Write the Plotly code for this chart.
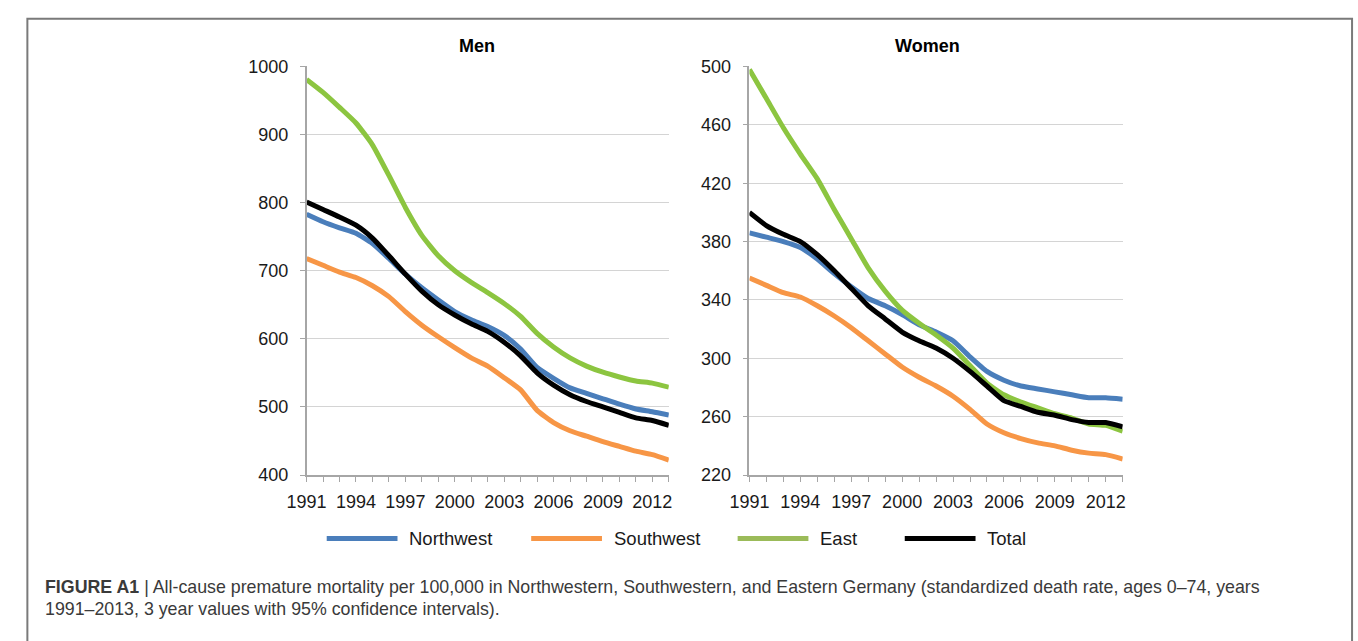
import plotly.graph_objects as go

# ---------------- data ----------------
years = list(range(1991, 2014))

men_northwest = [783, 772, 763, 755, 740, 718, 695, 675, 657, 640, 628, 618, 605, 585, 558, 542, 528, 520, 512, 504, 497, 493, 488]
men_southwest = [718, 708, 698, 690, 678, 662, 640, 620, 603, 587, 572, 560, 543, 525, 495, 477, 465, 457, 449, 442, 435, 430, 422]
men_east = [981, 962, 940, 917, 885, 840, 793, 752, 722, 700, 683, 668, 652, 633, 608, 588, 572, 560, 551, 544, 538, 535, 529]
men_total = [801, 790, 779, 767, 748, 722, 695, 670, 650, 635, 622, 611, 595, 575, 550, 532, 518, 508, 500, 492, 484, 480, 473]

women_northwest = [386, 383, 380, 376, 368, 358, 349, 341, 336, 330, 323, 318, 312, 301, 291, 285, 281, 279, 277, 275, 273, 273, 272]
women_southwest = [355, 350, 345, 342, 336, 329, 321, 312, 303, 294, 287, 281, 274, 265, 255, 249, 245, 242, 240, 237, 235, 234, 231]
women_east = [498, 478, 458, 440, 423, 402, 382, 362, 346, 333, 324, 316, 307, 295, 283, 275, 270, 266, 262, 259, 255, 254, 250]
women_total = [400, 391, 385, 380, 371, 360, 348, 336, 327, 318, 312, 307, 300, 291, 281, 271, 267, 263, 261, 258, 256, 256, 253]

series_names = ["Northwest", "Southwest", "East", "Total"]
series_colors = ["#4A7EBB", "#F79646", "#8CC540", "#000000"]
legend_colors = ["#4A7EBB", "#F79646", "#9BBB59", "#000000"]

men_ticks = [400, 500, 600, 700, 800, 900, 1000]
women_ticks = [220, 260, 300, 340, 380, 420, 460, 500]

caption_line1 = ("<b>FIGURE A1</b> | All-cause premature mortality per 100,000 in Northwestern, "
                 "Southwestern, and Eastern Germany (standardized death rate, ages 0–74, years")
caption_line2 = "1991–2013, 3 year values with 95% confidence intervals)."

# ---------------- layout helpers ----------------
W, H = 1358, 641
def px(x):
    return x / W
def py(y):
    return 1 - y / H

FONT = "Liberation Sans, Arial, Helvetica, sans-serif"
AXIS_COLOR = "#a6a6a6"
GRID_COLOR = "#d4d4d4"
TEXT_COLOR = "#1a1a1a"

fig = go.Figure()

men_data = [men_northwest, men_southwest, men_east, men_total]
women_data = [women_northwest, women_southwest, women_east, women_total]

for name, vals, col in zip(series_names, men_data, series_colors):
    fig.add_trace(go.Scatter(x=years, y=vals, name=name, mode="lines",
                             line=dict(color=col, width=5, shape="spline", smoothing=0.5),
                             xaxis="x", yaxis="y", showlegend=False))
for name, vals, col in zip(series_names, women_data, series_colors):
    fig.add_trace(go.Scatter(x=years, y=vals, name=name, mode="lines",
                             line=dict(color=col, width=5, shape="spline", smoothing=0.5),
                             xaxis="x2", yaxis="y2", showlegend=False))

def xaxis_cfg(domain, anchor):
    return dict(domain=domain, anchor=anchor, range=[1991, 2013],
                tick0=1991, dtick=3, ticks="outside", ticklen=5, tickwidth=1.2,
                tickcolor=AXIS_COLOR, showline=True, linecolor=AXIS_COLOR, linewidth=1.5,
                showgrid=False, zeroline=False, ticklabelstandoff=5,
                minor=dict(tick0=1991, dtick=1, ticks="outside", ticklen=5, tickwidth=1.2,
                           tickcolor=AXIS_COLOR, showgrid=False),
                tickfont=dict(family=FONT, size=18, color=TEXT_COLOR))

def yaxis_cfg(domain, anchor, rng, tickvals):
    return dict(domain=domain, anchor=anchor, range=rng, tickvals=tickvals,
                ticks="outside", ticklen=5, tickwidth=1.2, tickcolor=AXIS_COLOR,
                showline=True, linecolor=AXIS_COLOR, linewidth=1.5,
                showgrid=True, gridcolor=GRID_COLOR, gridwidth=1.2, zeroline=False,
                ticklabelstandoff=8,
                tickfont=dict(family=FONT, size=18, color=TEXT_COLOR))

ydom = [py(480), py(58.3)]
fig.update_layout(
    xaxis=xaxis_cfg([px(291.5), px(660)], "y"),
    yaxis=yaxis_cfg(ydom, "x", [400, 1000], men_ticks),
    xaxis2=xaxis_cfg([px(742), px(1121.7)], "y2"),
    yaxis2=yaxis_cfg(ydom, "x2", [220, 500], women_ticks),
)

annotations = [
    dict(text="<b>Men</b>", x=px(465), y=py(37), xref="paper", yref="paper",
         showarrow=False, font=dict(family=FONT, size=18, color="#000000"),
         xanchor="center", yanchor="middle"),
    dict(text="<b>Women</b>", x=px(923), y=py(37), xref="paper", yref="paper",
         showarrow=False, font=dict(family=FONT, size=18, color="#000000"),
         xanchor="center", yanchor="middle"),
]

shapes = []
# manual legend
leg_y = 545.5
leg_x0 = [312, 520, 730, 900]
for name, col, x0 in zip(series_names, legend_colors, leg_x0):
    shapes.append(dict(type="line", xref="paper", yref="paper",
                       x0=px(x0), x1=px(x0 + 72), y0=py(leg_y), y1=py(leg_y),
                       line=dict(color=col, width=5)))
    annotations.append(dict(text=name, x=px(x0 + 82), y=py(leg_y), xref="paper", yref="paper",
                            showarrow=False, xanchor="left", yanchor="middle",
                            font=dict(family=FONT, size=18.5, color=TEXT_COLOR)))

# caption
annotations.append(dict(text=caption_line1, x=px(23), y=py(596), xref="paper", yref="paper",
                        showarrow=False, xanchor="left", yanchor="middle", align="left",
                        font=dict(family=FONT, size=17.8, color="#3a3a3a")))
annotations.append(dict(text=caption_line2, x=px(23), y=py(618), xref="paper", yref="paper",
                        showarrow=False, xanchor="left", yanchor="middle", align="left",
                        font=dict(family=FONT, size=17.8, color="#3a3a3a")))

# frame
shapes.append(dict(type="rect", xref="paper", yref="paper",
                   x0=px(7.5), x1=px(1355), y0=py(660), y1=py(9),
                   line=dict(color="#7a7a7a", width=2), fillcolor="rgba(0,0,0,0)"))

fig.update_layout(
    width=W, height=H, autosize=False,
    margin=dict(l=0, r=0, t=0, b=0),
    paper_bgcolor="white", plot_bgcolor="white",
    showlegend=False,
    annotations=annotations, shapes=shapes,
)

fig.write_html("out.html",
               config={"displayModeBar": False},
               post_script="document.body.style.margin='0';document.body.style.overflow='hidden';")
